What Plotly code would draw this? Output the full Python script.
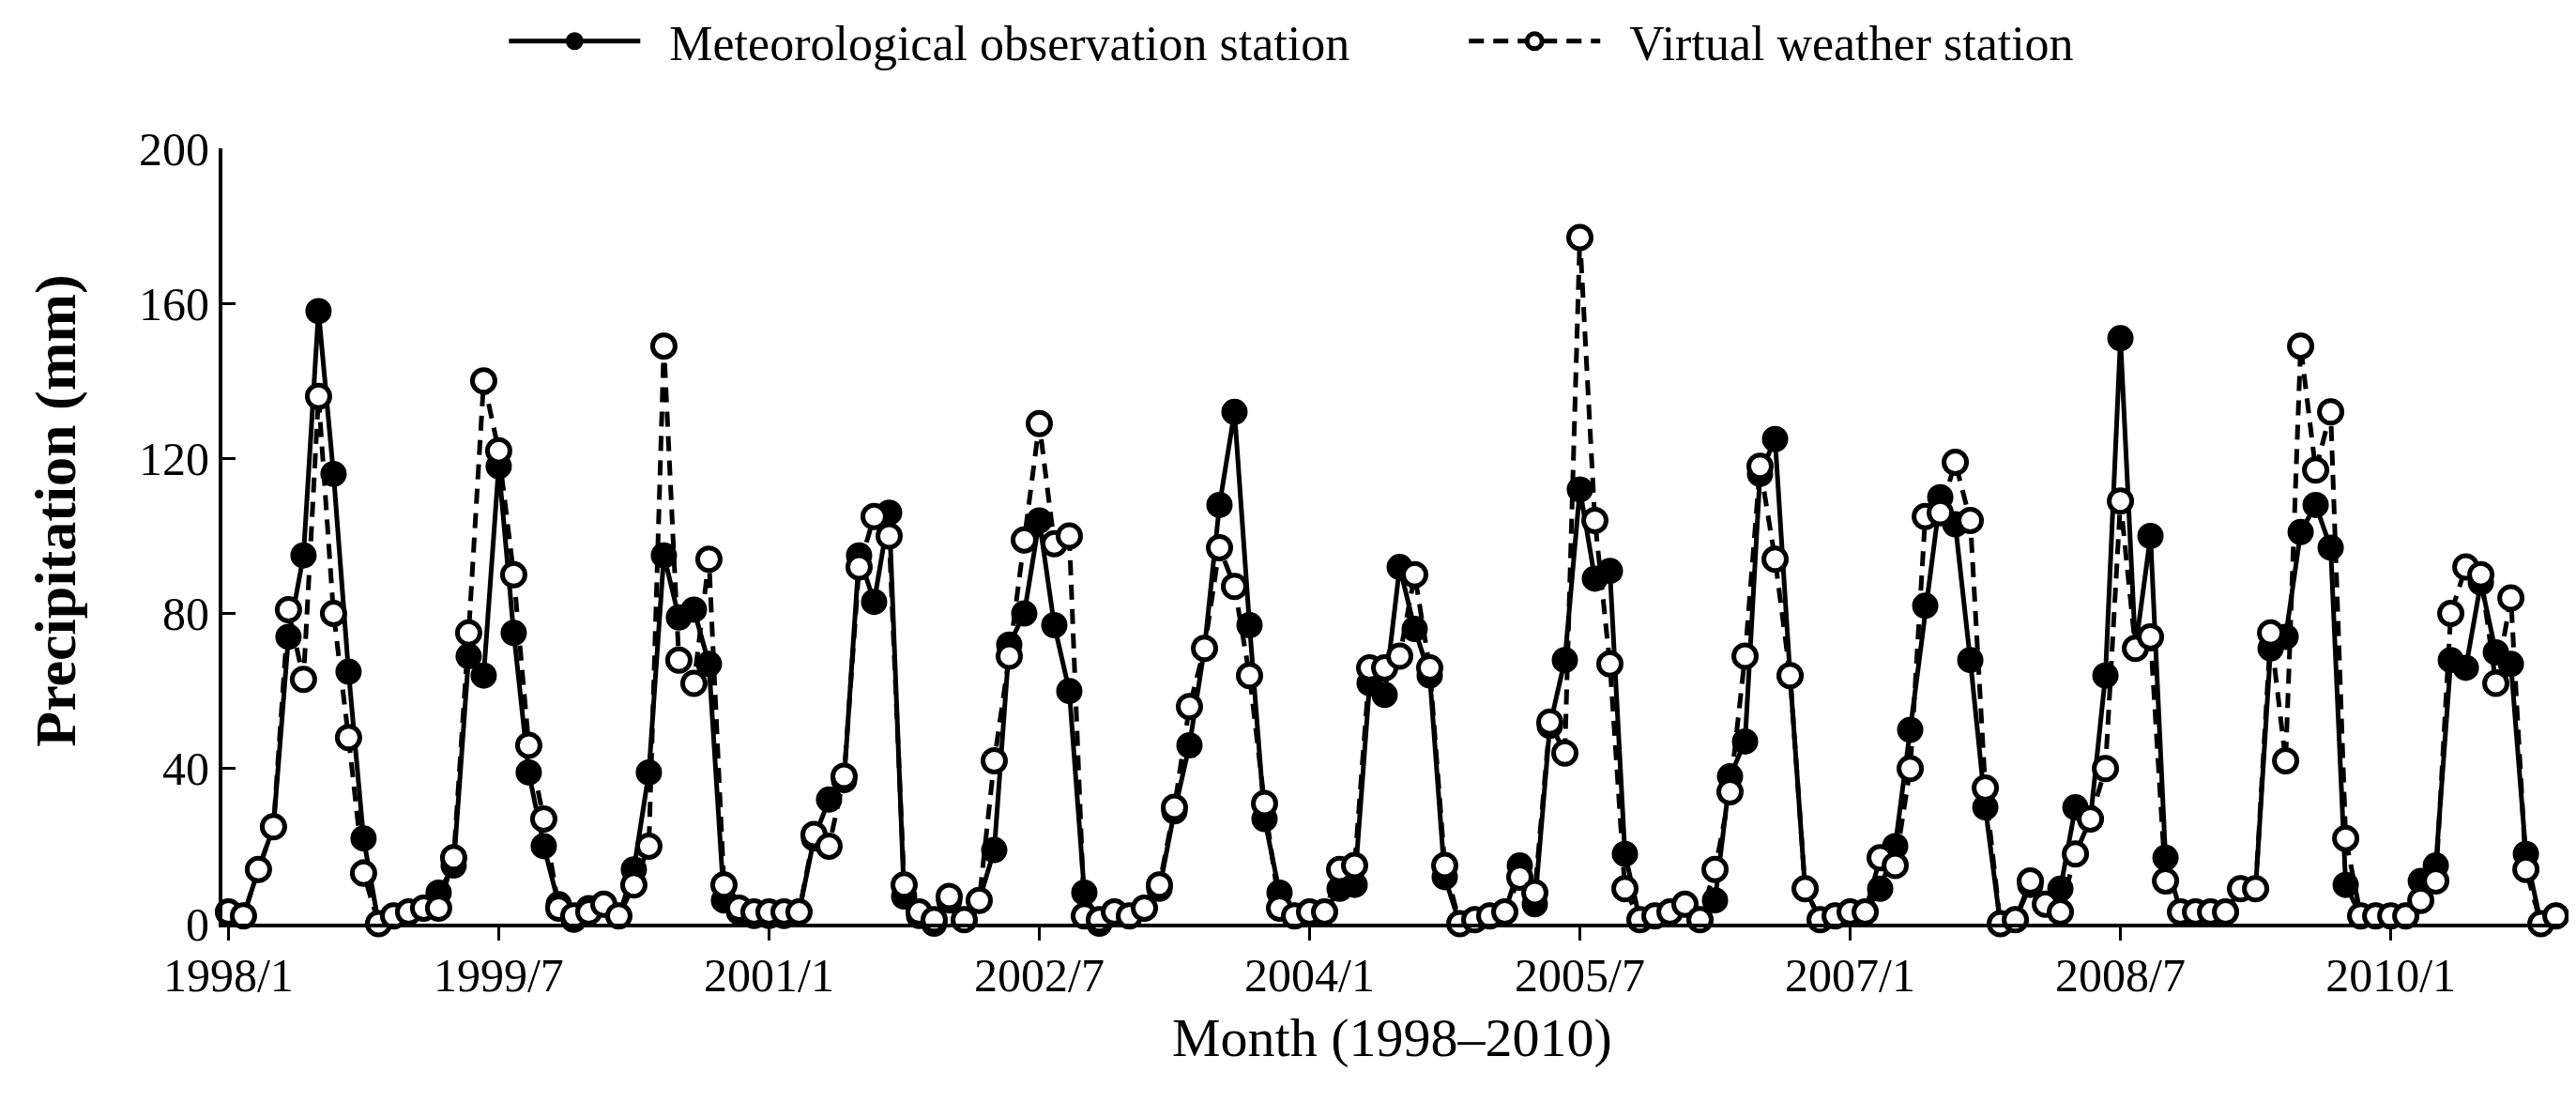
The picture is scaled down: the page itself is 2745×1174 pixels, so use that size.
import plotly.graph_objects as go

# 月份标签 1998/1 ... 2010/12
years = list(range(1998, 2011))
months = [f'{y}/{m}' for y in years for m in range(1, 13)]
tick_labels = ['1998/1', '1999/7', '2001/1', '2002/7', '2004/1',
               '2005/7', '2007/1', '2008/7', '2010/1']

# 气象观测站 (mm)
station = [
    3, 2, 14, 25, 74, 95, 158, 116, 65, 22, 0, 2,
    3, 4, 8, 15, 69, 64, 118, 75, 39, 20, 5, 1,
    4, 5, 2, 14, 39, 95, 79, 81, 67, 6, 3, 2,
    2, 2, 3, 22, 32, 37, 95, 83, 106, 7, 2, 0,
    6, 1, 6, 19, 72, 80, 104, 77, 60, 8, 0, 3,
    2, 4, 9, 29, 46, 71, 108, 132, 77, 27, 8, 2,
    3, 3, 9, 10, 62, 59, 92, 76, 64, 12, 0, 1,
    2, 3, 15, 5, 51, 68, 112, 89, 91, 18, 1, 2,
    3, 5, 1, 6, 38, 47, 116, 125, 64, 9, 1, 2,
    3, 3, 9, 20, 50, 82, 110, 103, 68, 30, 0, 1,
    10, 5, 9, 30, 27, 64, 151, 71, 100, 17, 3, 3,
    3, 3, 9, 9, 71, 74, 101, 108, 97, 10, 2, 2,
    2, 2, 11, 15, 68, 66, 88, 70, 67, 18, 0, 2,
]

# 虚拟气象站 (mm)
virtual = [
    3, 2, 14, 25, 81, 63, 136, 80, 48, 13, 0, 2,
    3, 4, 4, 17, 75, 140, 122, 90, 46, 27, 4, 2,
    3, 5, 2, 10, 20, 149, 68, 62, 94, 10, 4, 3,
    3, 3, 3, 23, 20, 38, 92, 105, 100, 10, 3, 1,
    7, 1, 6, 42, 69, 99, 129, 98, 100, 2, 1, 3,
    2, 4, 10, 30, 56, 71, 97, 87, 64, 31, 4, 2,
    3, 3, 14, 15, 66, 66, 69, 90, 66, 15, 0, 1,
    2, 3, 12, 8, 52, 44, 177, 104, 67, 9, 1, 2,
    3, 5, 1, 14, 34, 69, 118, 94, 64, 9, 1, 2,
    3, 3, 17, 15, 40, 105, 106, 119, 104, 35, 0, 1,
    11, 5, 3, 18, 27, 40, 109, 71, 74, 11, 3, 3,
    3, 3, 9, 9, 75, 42, 149, 117, 132, 22, 2, 2,
    2, 2, 6, 11, 80, 92, 90, 62, 84, 14, 0, 2,
]

font_name = 'Liberation Serif'
nb = '\u00a0'  # 图例里的空白

fig = go.Figure()
fig.add_trace(go.Scatter(
    x=months, y=station, mode='lines+markers',
    name=nb * 2 + 'Meteorological observation station' + nb * 9,
    line=dict(color='black', width=5),
    marker=dict(symbol='circle', size=25, color='black',
                line=dict(color='black', width=3)),
    cliponaxis=False,
))
fig.add_trace(go.Scatter(
    x=months, y=virtual, mode='lines+markers',
    name=nb * 2 + 'Virtual weather station',
    line=dict(color='black', width=5, dash='16px,10px'),
    marker=dict(symbol='circle', size=24, color='white',
                line=dict(color='black', width=5)),
    cliponaxis=False,
))

fig.update_layout(
    width=2745, height=1174,
    margin=dict(l=229, r=23, t=150, b=198, autoexpand=False),
    plot_bgcolor='white', paper_bgcolor='white',
    font=dict(family=font_name, size=50, color='black'),
    showlegend=True,
    legend=dict(orientation='h', x=0.457, xanchor='center',
                y=1.138, yanchor='middle', itemwidth=140,
                font=dict(size=52), bgcolor='rgba(0,0,0,0)'),
)

# 坐标轴标题用注释放置
fig.add_annotation(text='Month (1998–2010)', xref='paper', yref='paper',
                   x=0.5, y=-0.147, xanchor='center', yanchor='middle',
                   showarrow=False, font=dict(size=58))
fig.add_annotation(text='<b>Precipitation (mm)</b>', xref='paper', yref='paper',
                   x=-0.071, y=0.533, xanchor='center', yanchor='middle',
                   textangle=-90, showarrow=False, font=dict(size=62))

fig.update_xaxes(
    type='category', range=[-0.4, 155.4],
    tickmode='array', tickvals=tick_labels, ticktext=tick_labels,
    ticks='outside', ticklen=14, tickwidth=3, tickcolor='black',
    ticklabelstandoff=-6,
    showline=True, linewidth=4, linecolor='black',
    showgrid=False, zeroline=False, tickangle=0,
)
fig.update_yaxes(
    range=[0, 200], dtick=40, tick0=0,
    ticks='inside', ticklen=14, tickwidth=3, tickcolor='black',
    showline=True, linewidth=4, linecolor='black',
    showgrid=False, zeroline=False,
)

fig.write_html('out.html')
